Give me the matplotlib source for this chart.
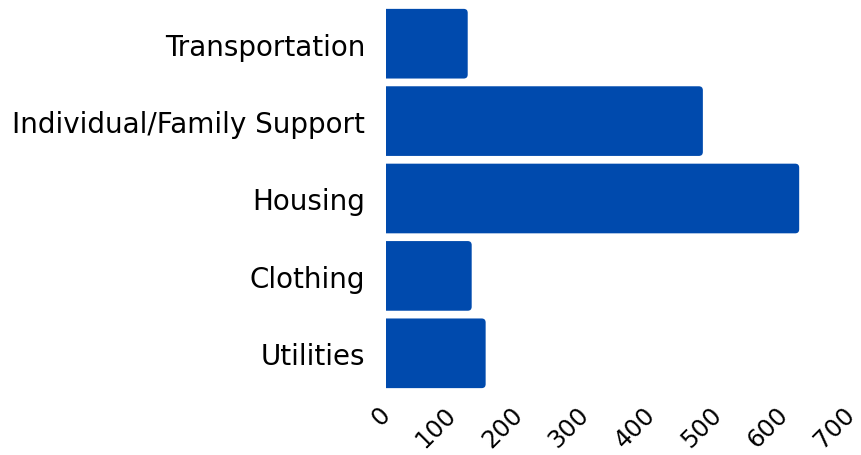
import matplotlib
matplotlib.use("Agg")
import matplotlib.pyplot as plt
from matplotlib.patches import FancyBboxPatch
from matplotlib.transforms import ScaledTranslation

categories = ["Transportation", "Individual/Family Support", "Housing", "Clothing", "Utilities"]
values = [123, 477, 622, 129, 150]
xticks = [0, 100, 200, 300, 400, 500, 600, 700]

bar_color = "#004AAD"

plt.rcParams['font.family'] = ['DejaVu Sans']

fig = plt.figure(figsize=(8.61, 4.56), dpi=100)
left, right, top, bottom = 386, 851, 6, 393
ax = fig.add_axes([left / 861, 1 - bottom / 456, (right - left) / 861, (bottom - top) / 456])

ypos = list(range(len(categories)))
bars = ax.barh(ypos, values, height=0.9, color=bar_color)

# data units per pixel, used to get round corners of ~4 px
xpp = 700 / (right - left)
ypp = len(categories) / (bottom - top)
r_px = 4

# swap plain rectangles for ones with rounded right corners (left side clipped)
for b in bars:
    x, y = b.get_x(), b.get_y()
    w, h = b.get_width(), b.get_height()
    b.set_visible(False)
    box = FancyBboxPatch((x - 20, y), w + 20, h,
                         boxstyle="round,pad=0,rounding_size=%f" % (r_px * xpp),
                         mutation_aspect=ypp / xpp,
                         facecolor=bar_color, edgecolor="none")
    ax.add_patch(box)

ax.set_xlim(0, 700)
ax.set_ylim(len(categories) - 0.5, -0.5)
ax.set_yticks(ypos)
ax.set_yticklabels(categories, fontsize=20)
ax.set_xticks(xticks)
ax.set_xticklabels([str(t) for t in xticks], fontsize=17.5, rotation=45,
                   ha="right", va="center", rotation_mode="anchor")
offset = ScaledTranslation(12 / 100, 0, fig.dpi_scale_trans)
for lab in ax.get_xticklabels():
    lab.set_transform(lab.get_transform() + offset)
ax.tick_params(axis="both", length=0)
ax.tick_params(axis="y", pad=15)
ax.tick_params(axis="x", pad=13)
for s in ax.spines.values():
    s.set_visible(False)

fig.savefig("out.png", dpi=100)
